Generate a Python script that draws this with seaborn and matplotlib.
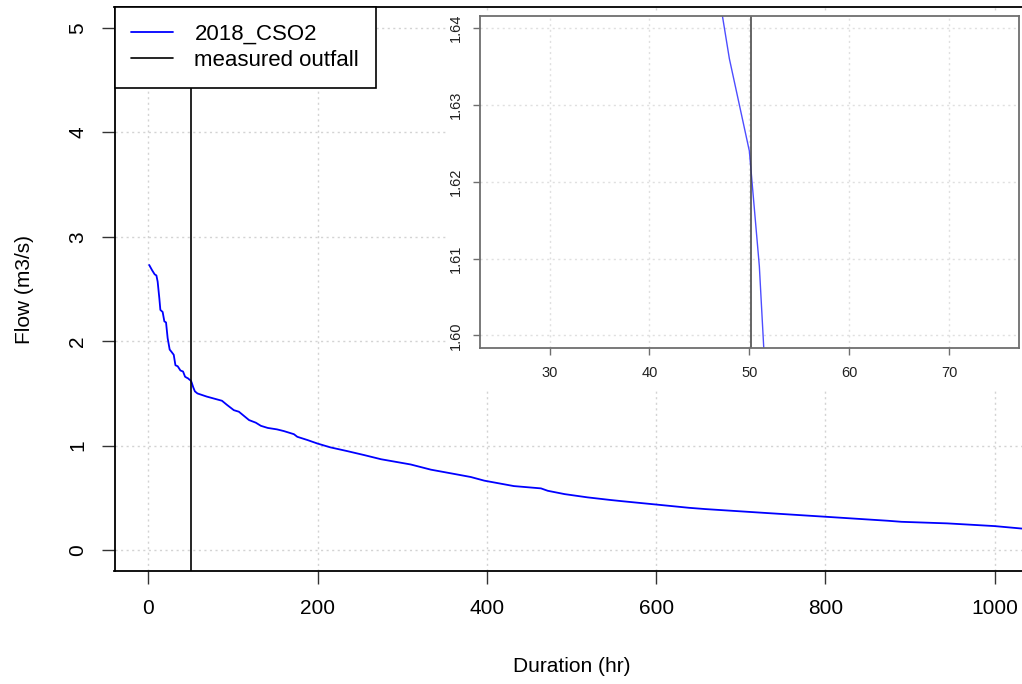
import matplotlib
matplotlib.use("Agg")
import matplotlib.pyplot as plt
from matplotlib.patches import Rectangle
import numpy as np
import pandas as pd
import seaborn as sns

# Flow duration curve for 2018_CSO2 (hours exceeded vs flow)
duration_hr = [1, 4.4, 7.5, 9.5, 11, 13, 14.2, 16.9, 18.9, 20.9, 22.8, 25.2, 27.2,
               30, 32, 34.7, 37.9, 41, 43.4, 45.5, 47, 48, 49, 50, 50.2, 51, 52,
               53, 55, 58, 69, 87, 93, 101, 107, 119, 127, 133, 141, 152, 160,
               172, 176, 188, 200, 215, 235, 255, 275, 310, 334, 361, 381, 397,
               432, 464, 472, 492, 519, 546, 559, 598, 639, 658, 727, 801, 874,
               890, 944, 1000, 1034, 1045]
flow_m3s = [2.73, 2.68, 2.64, 2.63, 2.57, 2.41, 2.30, 2.28, 2.19, 2.18, 2.03, 1.92, 1.90,
            1.87, 1.77, 1.76, 1.72, 1.71, 1.66, 1.65, 1.644, 1.636, 1.630, 1.624, 1.621,
            1.609, 1.585, 1.56, 1.52, 1.50, 1.47, 1.43, 1.39, 1.34, 1.325, 1.245, 1.22,
            1.19, 1.17, 1.156, 1.14, 1.11, 1.085, 1.054, 1.02, 0.984, 0.948, 0.91, 0.87,
            0.82, 0.77, 0.73, 0.70, 0.665, 0.613, 0.591, 0.568, 0.536, 0.505, 0.48,
            0.469, 0.438, 0.405, 0.393, 0.357, 0.319, 0.281, 0.271, 0.256, 0.23, 0.205, 0.20]
outfall_hr = 50.2

main_xticks = [0, 200, 400, 600, 800, 1000]
main_yticks = [0, 1, 2, 3, 4, 5]
inset_xticks = [30, 40, 50, 60, 70]
inset_yticks = [1.60, 1.61, 1.62, 1.63, 1.64]

sns.set_style("white")
plt.rcParams["font.family"] = ["Liberation Sans", "DejaVu Sans"]
plt.rcParams["text.color"] = "black"
plt.rcParams["axes.labelcolor"] = "black"
plt.rcParams["xtick.color"] = "black"
plt.rcParams["ytick.color"] = "black"

df = pd.DataFrame({"Duration (hr)": duration_hr, "Flow (m3/s)": flow_m3s})

W, H = 1022, 684
fig = plt.figure(figsize=(W / 100, H / 100), dpi=100)
fig.patch.set_facecolor("white")

grid_kw = dict(color="#d3d3d3", linestyle=(0, (1.5, 2.5)), linewidth=1.0)

# ---- main panel ----
ax = fig.add_axes([114.5 / W, (H - 571) / H, (1028.4 - 114.5) / W, (571 - 7) / H])
ax.set_zorder(0)
sns.lineplot(data=df, x="Duration (hr)", y="Flow (m3/s)", ax=ax, color="blue",
             lw=1.3, estimator=None, sort=False, label="2018_CSO2")
ax.axvline(outfall_hr, color="black", lw=1.2, label="measured outfall")
ax.set_xlim(-40, 1040)
ax.set_ylim(-0.2, 5.2)
ax.set_xticks(main_xticks)
ax.set_yticks(main_yticks)
ax.set_xticklabels([str(v) for v in main_xticks])
ax.set_yticklabels([str(v) for v in main_yticks])
ax.grid(True, **grid_kw)
ax.set_axisbelow(True)
for s in ax.spines.values():
    s.set_color("black")
    s.set_linewidth(1.3)
ax.tick_params(axis="both", direction="out", length=9.5, width=1.0, color="#333333",
               labelsize=15, labelcolor="black", pad=11, bottom=True, left=True)
ax.tick_params(axis="y", labelrotation=90, pad=10)
for lab in ax.get_yticklabels():
    lab.set_verticalalignment("center")
ax.set_xlabel("Duration (hr)", fontsize=15, labelpad=28, color="black")
ax.set_ylabel("Flow (m3/s)", fontsize=15, labelpad=25, color="black")

leg = ax.legend(loc="upper left", bbox_to_anchor=(0, 1), borderaxespad=0,
                fontsize=16, frameon=True, fancybox=False, edgecolor="black",
                handlelength=1.9, handletextpad=0.95, borderpad=0.75,
                labelspacing=0.25)
leg.get_frame().set_linewidth(1.2)
leg.get_frame().set_alpha(1)
for t in leg.get_texts():
    t.set_color("black")

# white backing behind the inset
fig.patches.append(Rectangle((447 / W, (H - 390) / H), (W - 447) / W + 0.01, (390 - 11) / H,
                             transform=fig.transFigure, facecolor="white",
                             edgecolor="none", zorder=0.5))

# ---- inset zoom around the outfall ----
axi = fig.add_axes([479.7 / W, (H - 347.7) / H, (1019 - 479.7) / W, (347.7 - 15.7) / H])
axi.set_zorder(1)
sns.lineplot(data=df, x="Duration (hr)", y="Flow (m3/s)", ax=axi, color="#4d4dff",
             lw=1.0, estimator=None, sort=False, legend=False)
axi.axvline(outfall_hr, color="#3a3a3a", lw=1.1)
axi.set_xlim(23, 77)
axi.set_ylim(1.5984, 1.6416)
axi.set_xticks(inset_xticks)
axi.set_yticks(inset_yticks)
axi.set_xticklabels([str(v) for v in inset_xticks])
axi.set_yticklabels([f"{v:.2f}" for v in inset_yticks])
axi.grid(True, **dict(grid_kw, color="#e0e0e0"))
axi.set_axisbelow(True)
axi.set_xlabel("")
axi.set_ylabel("")
for s in axi.spines.values():
    s.set_color("#6e6e6e")
    s.set_linewidth(1.3)
axi.tick_params(axis="both", direction="out", length=5, width=1.0, color="#6e6e6e",
                labelsize=10.5, labelcolor="#222222", pad=8, bottom=True, left=True)
axi.tick_params(axis="y", labelrotation=90, pad=7)
for lab in axi.get_yticklabels():
    lab.set_verticalalignment("center")

fig.savefig("out.png", dpi=100)
